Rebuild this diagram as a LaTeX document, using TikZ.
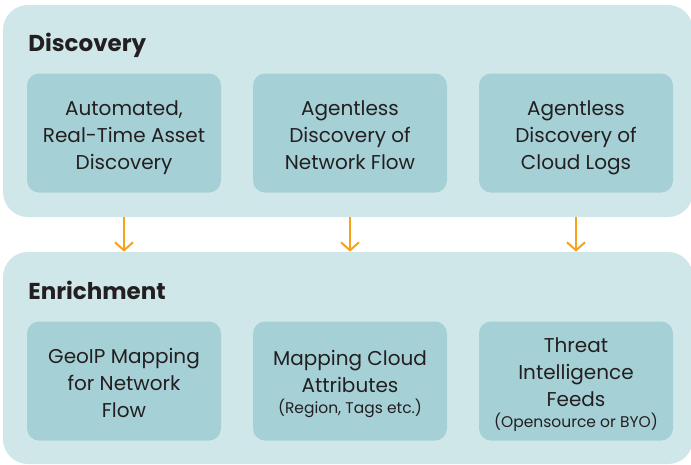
\documentclass[tikz,border=0pt]{standalone}
\usepackage{fontspec}
\setmainfont{Poppins}
\usetikzlibrary{arrows.meta}

\definecolor{panelfill}{HTML}{D0E7EA}
\definecolor{boxfill}{HTML}{A5D0D6}
\definecolor{flowarrow}{HTML}{F7A21B}
\definecolor{ink}{HTML}{231F20}

\tikzset{every picture/.style={line width=0.75pt}}

\begin{document}
\begin{tikzpicture}[
    x=1pt, y=-1pt,
    every node/.style={text=ink, inner sep=0pt},
    panel/.style={fill=panelfill, rounded corners=25pt, minimum width=690pt, minimum height=212pt},
    stage/.style={anchor=base west, font=\fontsize{23}{27}\selectfont\bfseries},
    item/.style={fill=boxfill, rounded corners=12pt, minimum width=194pt, minimum height=119pt},
    % anchored on the baseline of the last line
    label/.style={anchor=base, align=center, font=\fontsize{20}{27}\selectfont},
    small/.style={anchor=base, font=\fontsize{15.5}{18}\selectfont},
    flow/.style={draw=flowarrow, line width=2pt, -{Straight Barb[length=8pt, width=18pt, line width=2pt]}},
]
    \useasboundingbox (0,0) rectangle (691,464);

    % panels
    \node[panel] (disc) at (348,111) {};
    \node[panel] (enr) at (348,358) {};
    \node[stage] (disct) at (28,51) {Discovery};
    \node[stage] (enrt) at (28,299) {Enrichment};

    % discovery items
    \node[item] (d1) at (124,133) {};
    \node[item] (d2) at (350,133) {};
    \node[item] (d3) at (576,133) {};
    \node[label] (d1t) at (124,169) {Automated,\\Real-Time Asset\\Discovery};
    \node[label] (d2t) at (350,169) {Agentless\\Discovery of\\Network Flow};
    \node[label] (d3t) at (576,169) {Agentless\\Discovery of\\Cloud Logs};

    % enrichment items
    \node[item] (e1) at (124,381) {};
    \node[item] (e2) at (350,381) {};
    \node[item] (e3) at (576,381) {};
    \node[label] (e1t) at (124,417) {GeoIP Mapping\\for Network\\Flow};
    \node[label] (e2t) at (350,392) {Mapping Cloud\\Attributes};
    \node[small] (e2n) at (350,413) {(Region, Tags etc.)};
    \node[label] (e3t) at (576,406) {Threat\\Intelligence\\Feeds};
    \node[small] (e3n) at (576,427) {(Opensource or BYO)};

    % arrows between the stages
    \foreach \n in {d1,d2,d3}
        \draw[flow] (\n |- disc.south) -- (\n |- enr.north);
\end{tikzpicture}
\end{document}
